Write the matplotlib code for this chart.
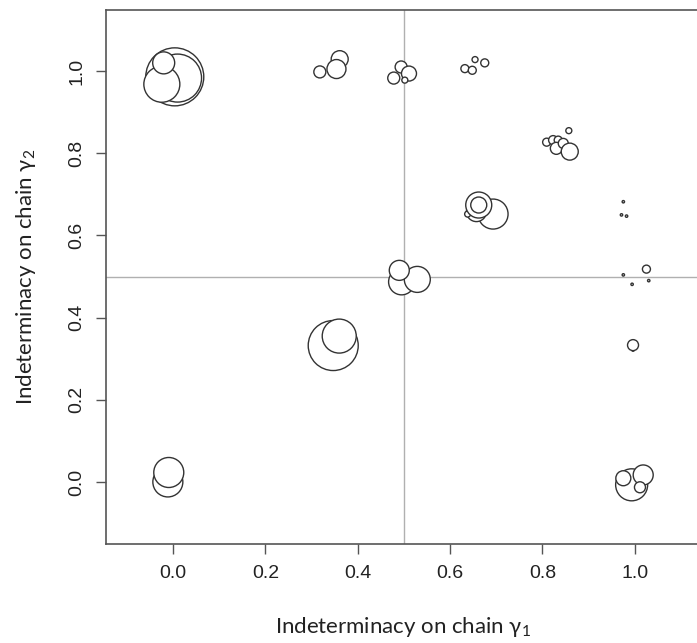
import matplotlib
matplotlib.use("Agg")
import matplotlib.pyplot as plt
import numpy as np

# Bubble data (drawn in this order, later ones on top)
x_vals = [0.004, 0.010, -0.024, -0.020,
          0.361, 0.354, 0.318,
          0.494, 0.478, 0.511, 0.502,
          0.632, 0.648, 0.654, 0.675,
          0.809, 0.823, 0.834, 0.830, 0.845, 0.859, 0.857,
          0.693, 0.657, 0.638, 0.662, 0.662,
          0.975, 0.971, 0.982, 0.975, 0.994, 1.030, 1.025,
          0.495, 0.529, 0.490,
          0.347, 0.360,
          0.996, 0.996,
          -0.011, -0.009,
          0.993, 0.975, 1.018, 1.011]
y_vals = [0.986, 0.983, 0.968, 1.020,
          1.029, 1.005, 0.998,
          1.010, 0.983, 0.994, 0.978,
          1.006, 1.002, 1.028, 1.020,
          0.827, 0.832, 0.832, 0.812, 0.824, 0.804, 0.855,
          0.652, 0.658, 0.652, 0.674, 0.674,
          0.682, 0.650, 0.647, 0.504, 0.481, 0.490, 0.518,
          0.487, 0.493, 0.515,
          0.332, 0.355,
          0.321, 0.333,
          0.000, 0.023,
          -0.007, 0.009, 0.017, -0.013]
weights = [29, 24, 18, 11,
           8.5, 9.5, 6,
           6, 6, 7.5, 3,
           4, 4, 3, 4,
           4, 4.5, 4, 6, 5, 8.5, 3,
           15, 10, 3, 13, 8,
           1.2, 1.2, 1.2, 1.2, 1.2, 1.2, 4,
           13, 13, 10,
           25, 17,
           1.2, 5.5,
           15, 15,
           16, 7.5, 10, 5.5]

xticks = [0.0, 0.2, 0.4, 0.6, 0.8, 1.0]
yticks = [0.0, 0.2, 0.4, 0.6, 0.8, 1.0]

plt.rcParams['mathtext.fontset'] = 'custom'
plt.rcParams['mathtext.rm'] = 'Lato'
plt.rcParams['mathtext.it'] = 'Lato:italic'

fig = plt.figure(figsize=(6.97, 6.43), dpi=100)
ax = fig.add_axes([0.152, 0.154, 0.851, 0.830])

ax.axvline(0.5, color='#b0b0b0', lw=1.0, zorder=1)
ax.axhline(0.5, color='#b0b0b0', lw=1.0, zorder=1)

sizes = (1.44 * np.array(weights)) ** 2
ax.scatter(x_vals, y_vals, s=sizes, facecolor='white', edgecolor='#333333',
           linewidths=1.0, zorder=2)

ax.set_xlim(-0.145, 1.139)
ax.set_ylim(-0.151, 1.148)
ax.set_xticks(xticks)
ax.set_yticks(yticks)
ax.set_xticklabels([f'{t:.1f}' for t in xticks], fontsize=14,
                   family='Liberation Sans', color='#222222')
ax.set_yticklabels([f'{t:.1f}' for t in yticks], fontsize=14,
                   family='Liberation Sans', color='#222222',
                   rotation=90, va='center')
ax.tick_params(direction='out', length=7, width=1, color='#555555', pad=8)

for sp in ax.spines.values():
    sp.set_color('#555555')
    sp.set_linewidth(1.2)

ax.set_xlabel(r'Indeterminacy on chain $\mathrm{\gamma_1}$', fontsize=16,
              family='Lato', color='#222222', labelpad=24)
ax.set_ylabel(r'Indeterminacy on chain $\mathrm{\gamma_2}$', fontsize=16,
              family='Lato', color='#222222', labelpad=22)

fig.savefig('out.png', dpi=100)
